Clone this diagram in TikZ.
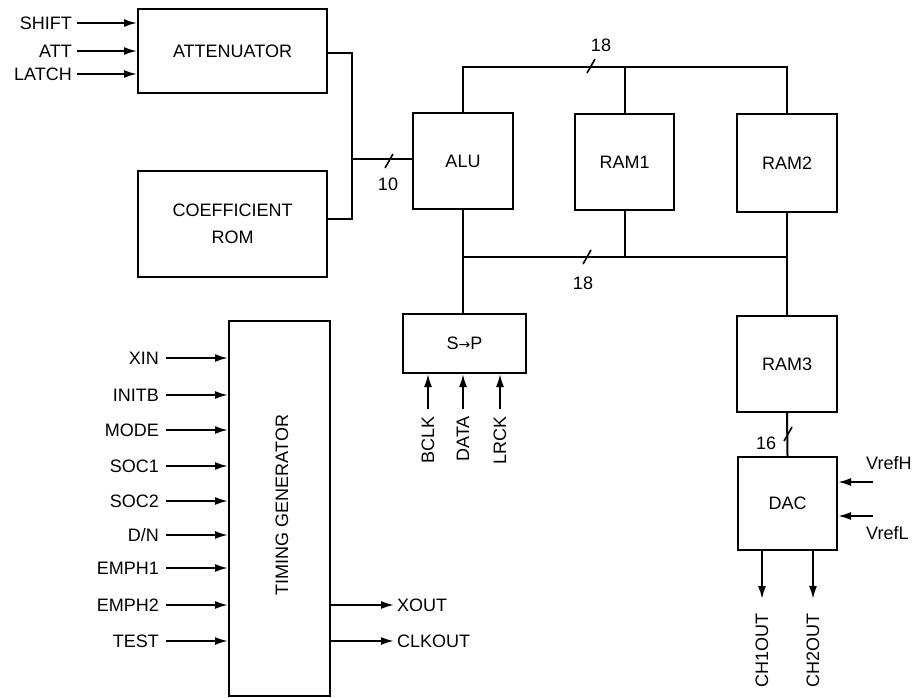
\documentclass[tikz,border=0pt]{standalone}
\usepackage{fontspec}
\setmainfont{Liberation Sans}
\newfontfamily\arrowfont{DejaVu Sans}
\usetikzlibrary{arrows.meta}
\begin{document}
\begin{tikzpicture}[x=1pt,y=-1pt,
  font=\fontsize{18}{27}\selectfont,
  wire/.style={line width=2pt, line cap=rect},
  arr/.style={line width=2pt, -{Latex[length=13pt,width=8pt]}},
  blk/.style={draw, line width=2pt, inner sep=0pt, align=center},
  lbl/.style={inner sep=0pt},
  busmark/.pic={\draw[line width=1.6pt] (-4,7) -- (4,-7);}
]
\useasboundingbox (0,0) rectangle (912,698);

% blocks
\node[blk, minimum width=189pt, minimum height=84pt] (att) at (232.5,51) {ATTENUATOR};
\node[blk, minimum width=189pt, minimum height=106pt] (coef) at (232.5,224) {COEFFICIENT\\ROM};
\node[blk, minimum width=100pt, minimum height=96pt] (alu) at (463,161) {ALU};
\node[blk, minimum width=99pt, minimum height=96pt] (ram1) at (624.5,162) {RAM1};
\node[blk, minimum width=100pt, minimum height=98pt] (ram2) at (787,163) {RAM2};
\node[blk, minimum width=123pt, minimum height=59pt] (sp) at (464.5,343.5) {S{\arrowfont\fontsize{14}{16}\selectfont →}P};
\node[blk, minimum width=100pt, minimum height=96pt] (ram3) at (787,364) {RAM3};
\node[blk, minimum width=99pt, minimum height=93pt] (dac) at (787.5,503.5) {DAC};
\node[blk, minimum width=101pt, minimum height=375pt] (tg) at (279.5,508.5) {};
\node[lbl, rotate=90] (tgl) at (282,505) {TIMING GENERATOR};

% attenuator inputs
\node[lbl, anchor=east] (shift) at (72,23) {SHIFT};
\node[lbl, anchor=east] (attin) at (72,51) {ATT};
\node[lbl, anchor=east] (latch) at (72,74) {LATCH};
\draw[arr] ([xshift=5pt]shift.east) -- (att.west |- shift.east);
\draw[arr] ([xshift=5pt]attin.east) -- (att.west |- attin.east);
\draw[arr] ([xshift=5pt]latch.east) -- (att.west |- latch.east);

% attenuator / rom to ALU
\coordinate (jx) at (352,159);
\draw[wire] ([yshift=-2pt]att.east) -| (jx);
\draw[wire] ([yshift=5pt]coef.east) -| (jx);
\draw[wire] (jx) -- (alu.west |- jx);
\pic at (389,161) {busmark};
\node[lbl] (n10) at (388,184) {10};

% top bus
\coordinate (topbus) at (0,67);
\draw[wire] (alu.north) -- (alu.north |- topbus) -- (ram2.north |- topbus) -- (ram2.north);
\draw[wire] (ram1.north) -- (ram1.north |- topbus);
\pic at (591,66) {busmark};
\node[lbl] (n18a) at (601,45) {18};

% bottom bus
\coordinate (botbus) at (0,257);
\draw[wire] (alu.south) -- (alu.south |- sp.north);
\draw[wire] (alu.south |- botbus) -- (ram2.south |- botbus);
\draw[wire] (ram1.south) -- (ram1.south |- botbus);
\draw[wire] (ram2.south) -- (ram3.north);
\pic at (587,257) {busmark};
\node[lbl] (n18b) at (583,283) {18};

% S->P inputs
\node[lbl, rotate=90, anchor=east] (bclk) at (428,416) {BCLK};
\node[lbl, rotate=90, anchor=east] (data) at (463,416) {DATA};
\node[lbl, rotate=90, anchor=east] (lrck) at (500,416) {LRCK};
\draw[arr] ([yshift=7pt]bclk.east) -- (sp.south -| bclk.east);
\draw[arr] ([yshift=7pt]data.east) -- (sp.south -| data.east);
\draw[arr] ([yshift=7pt]lrck.east) -- (sp.south -| lrck.east);

% RAM3 to DAC
\draw[wire] (ram3.south) -- (dac.north);
\pic at (788,434) {busmark};
\node[lbl] (n16) at (766,443) {16};

% DAC references
\coordinate (vh) at (873,482);
\coordinate (vl) at (873,516);
\draw[arr] (vh) -- (dac.east |- vh);
\draw[arr] (vl) -- (dac.east |- vl);
\node[lbl, anchor=west] (vrefh) at (866,463) {VrefH};
\node[lbl, anchor=west] (vrefl) at (866,533) {VrefL};

% DAC outputs
\node[lbl, rotate=90, anchor=east] (ch1) at (762,613) {CH1OUT};
\node[lbl, rotate=90, anchor=east] (ch2) at (813,613) {CH2OUT};
\draw[arr] (dac.south -| ch1.east) -- ([yshift=14pt]ch1.east);
\draw[arr] (dac.south -| ch2.east) -- ([yshift=14pt]ch2.east);

% timing generator inputs
\foreach \nm/\txt/\yy in {xin/XIN/358, initb/INITB/395, mode/MODE/430, soca/SOC1/466, socb/SOC2/501, dn/D\slash N/535, empha/EMPH1/568, emphb/EMPH2/605, test/TEST/641}{
  \node[lbl, anchor=east] (\nm) at (159,\yy) {\txt};
  \draw[arr] ([xshift=7pt]\nm.east) -- (tg.west |- \nm.east);
}

% timing generator outputs
\node[lbl, anchor=west] (xout) at (397,605) {XOUT};
\node[lbl, anchor=west] (clkout) at (397,641) {CLKOUT};
\draw[arr] (tg.east |- xout.west) -- ([xshift=-3pt]xout.west);
\draw[arr] (tg.east |- clkout.west) -- ([xshift=-3pt]clkout.west);
\end{tikzpicture}
\end{document}
